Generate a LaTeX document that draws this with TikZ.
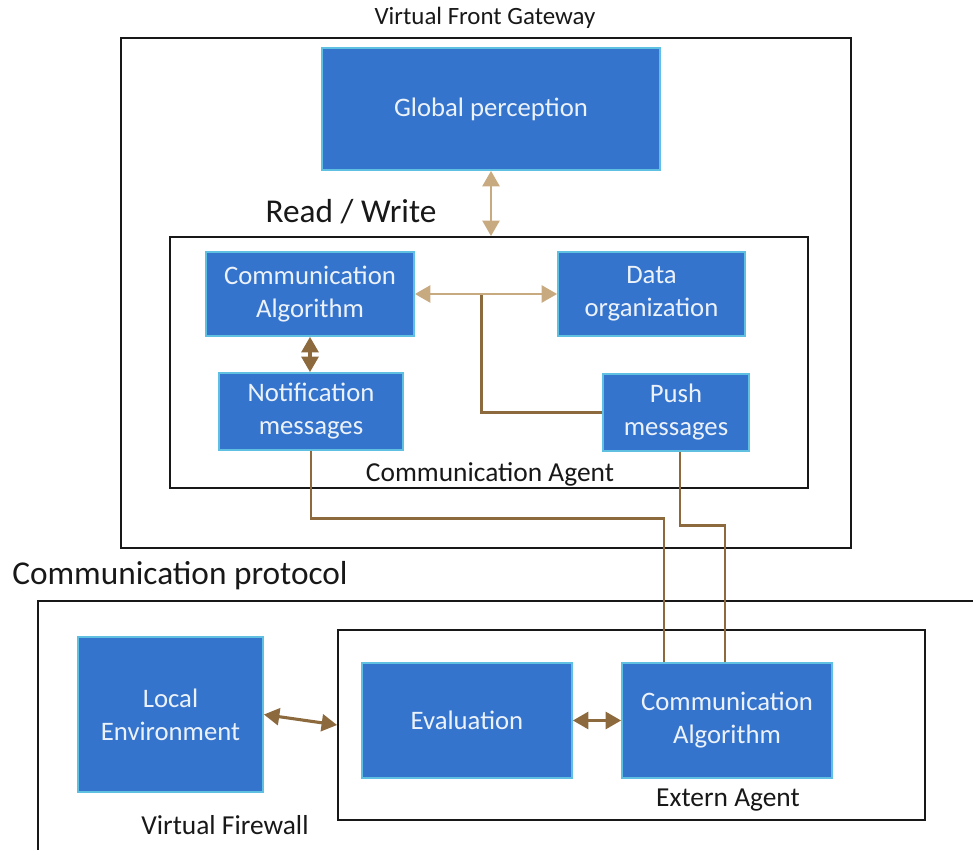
\documentclass[tikz,border=0pt]{standalone}
\usepackage{fontspec}
\setmainfont{Carlito}
\usetikzlibrary{arrows.meta,positioning,calc}
\definecolor{gwblue}{RGB}{53,116,205}
\definecolor{gwedge}{RGB}{96,192,226}
\definecolor{gwtext}{RGB}{236,242,250}
\definecolor{gwtan}{RGB}{200,170,128}
\definecolor{gwbrown}{RGB}{140,106,62}
\definecolor{gwdark}{RGB}{24,24,24}
\tikzset{
  gwblock/.style={
    draw=gwedge,
    fill=gwblue,
    line width=1.2pt,
    text=gwtext,
    align=center,
    font=\fontsize{19}{23.5}\selectfont,
    inner sep=2pt
  },
  gwframe/.style={draw=gwdark, line width=1.3pt, inner sep=0pt},
  gwlabel/.style={text=gwdark, font=\fontsize{19.5}{23}\selectfont, inner sep=0pt},
  gwbiglabel/.style={gwlabel, font=\fontsize{23.7}{28}\selectfont},
  gwtanarrow/.style={{Triangle[width=12pt,length=11pt]}-{Triangle[width=12pt,length=11pt]}, draw=gwtan, line width=2pt},
  gwbrownarrow/.style={{Triangle[width=12pt,length=11pt]}-{Triangle[width=12pt,length=11pt]}, draw=gwbrown, line width=2.2pt},
  gwbrownline/.style={draw=gwbrown, line width=2pt}
}
\begin{document}
\begin{tikzpicture}
  \useasboundingbox (0,0) rectangle (24.325,-21.25);
  \node[gwlabel, font=\fontsize{17.7}{21}\selectfont] (gwtitle) at (12.125,-0.45) {Virtual Front Gateway};
  \node[gwframe, minimum width=18.25cm, minimum height=12.75cm] (gateway) at (12.15,-7.325) {};
  \node[gwblock, minimum width=8.45cm, minimum height=3.05cm] (global) at (12.275,-2.725) {Global perception};
  \node[gwbiglabel] (rw) at (8.775,-5.3) {Read / Write};
  \node[gwframe, minimum width=15.95cm, minimum height=6.275cm] (agent) at (12.225,-9.0625) {};
  \node[gwblock, minimum width=5.2cm, minimum height=2.1cm] (commalg) at (7.75,-7.35) {Communication\\Algorithm};
  \node[gwblock, minimum width=4.675cm, minimum height=2.1cm] (dataorg) at (16.2875,-7.35) {Data\\organization};
  \node[gwblock, minimum width=4.6cm, minimum height=1.925cm] (notif) at (7.775,-10.2875) {Notification\\messages};
  \node[gwblock, minimum width=3.65cm, minimum height=1.925cm] (push) at (16.9,-10.3125) {Push\\messages};
  \node[gwlabel] (agentlbl) at (12.25,-11.85) {Communication Agent};

  \node[gwbiglabel] (protocol) at (4.5,-14.4) {Communication protocol};
  \draw[gwframe] (24.325,-15.025) -| (0.95,-21.25);
  \node[gwblock, minimum width=4.625cm, minimum height=3.875cm] (localenv) at (4.2625,-17.8625) {Local\\Environment};
  \node[gwframe, minimum width=14.675cm, minimum height=4.75cm] (extern) at (15.7875,-18.125) {};
  \node[gwblock, minimum width=5.25cm, minimum height=2.875cm] (eval) at (11.675,-18.0125) {Evaluation};
  \node[gwblock, minimum width=5.25cm, minimum height=2.875cm] (commalgb) at (18.175,-18.0125) {Communication\\Algorithm};
  \node[gwlabel] (externlbl) at (18.2,-20.0) {Extern Agent};
  \node[gwlabel] (firewall) at (5.625,-20.625) {Virtual Firewall};

  \draw[gwtanarrow] (global.south) -- (global.south |- agent.north);
  \coordinate (split) at ($(commalg.east)!0.47!(dataorg.west)$);
  \draw[gwbrownline] (split) |- (push.west);
  \draw[gwtanarrow] (commalg.east) -- (dataorg.west);
  \draw[gwbrownarrow] (commalg.south) -- (commalg.south |- notif.north);
  \draw[gwbrownline] (notif.south) -- ++(0,-1.7) -| ([xshift=-1.575cm]commalgb.north);
  \draw[gwbrownline] ([xshift=0.1cm]push.south) -- ++(0,-1.85) -| ([xshift=-0.05cm]commalgb.north);
  \draw[gwbrownarrow] (localenv.east) -- (extern.west);
  \draw[gwbrownarrow] (eval.east) -- (commalgb.west);
\end{tikzpicture}
\end{document}
